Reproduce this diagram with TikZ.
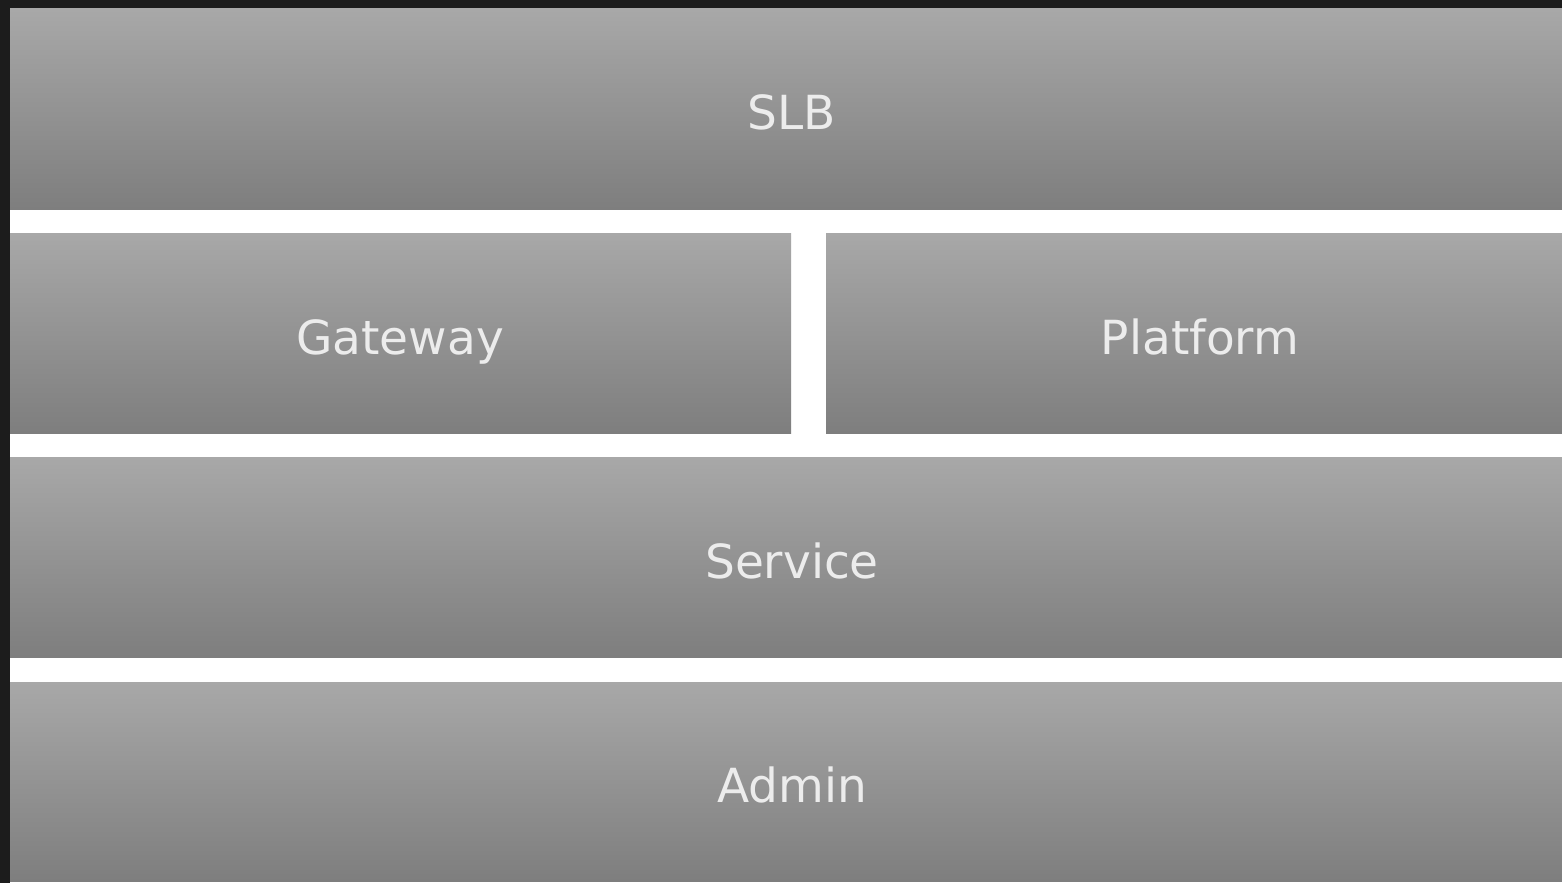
\documentclass[tikz,border=0pt]{standalone}
\usepackage{fontspec}
\setmainfont{DejaVu Sans}
\definecolor{frame}{RGB}{28,28,28}
\definecolor{tiletop}{RGB}{168,168,168}
\definecolor{tilebot}{RGB}{126,126,126}
\definecolor{tiletext}{RGB}{236,236,236}
\begin{document}
\begin{tikzpicture}[x=1pt,y=-1pt,
  tile/.style={top color=tiletop,bottom color=tilebot,draw=none},
  tilelabel/.style={text=tiletext,font=\fontsize{47}{51}\selectfont,inner sep=0pt,anchor=base}]
  \useasboundingbox (0,0) rectangle (1562,883);
  \fill[frame] (0,0) rectangle (1562,883);
  \fill[white] (10,9) rectangle (1562,883);
  \begin{scope}
    \clip (0,0) rectangle (1562,883);
    \path[tile] (10,9) rectangle (1574,209);
    \path[tile] (10,233) rectangle (791,433);
    \path[tile] (826,233) rectangle (1574,433);
    \path[tile] (10,457) rectangle (1574,657);
    \path[tile] (10,682) rectangle (1574,881);
  \end{scope}
  \node[tilelabel] (slb) at (792,129) {SLB};
  \node[tilelabel] (gateway) at (400,354) {Gateway};
  \node[tilelabel] (platform) at (1200,354) {Platform};
  \node[tilelabel] (service) at (792,578) {Service};
  \node[tilelabel] (admin) at (792,802) {Admin};
\end{tikzpicture}
\end{document}
